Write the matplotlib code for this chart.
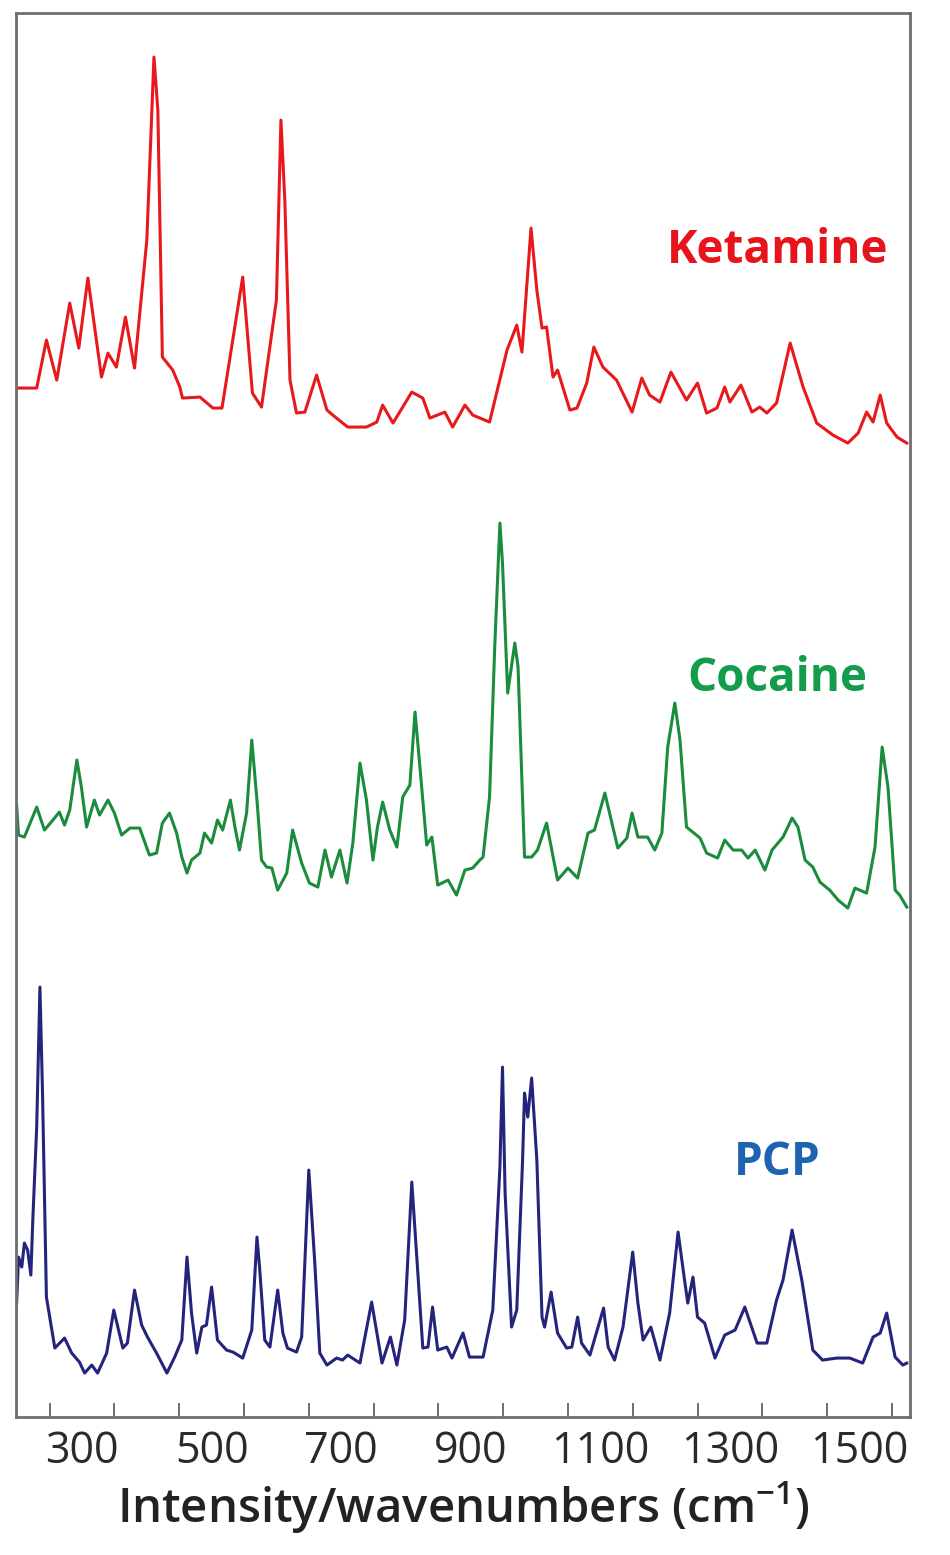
import numpy as np
import matplotlib
matplotlib.use("Agg")
import matplotlib.pyplot as plt

# Raman spectra (wavenumber in cm-1, intensity in arbitrary units)
ket_wn = [199, 230, 245, 261, 281, 295, 309, 330, 340, 353, 367, 381, 400, 411, 417, 424,
          440, 451, 455, 482, 502, 516, 548, 563, 577, 600, 607, 613, 621, 631, 644, 662,
          678, 687, 710, 739, 755, 764, 780, 809, 826, 837, 860, 872, 891, 903, 929, 956,
          971, 979, 993, 1002, 1010, 1017, 1027, 1034, 1053, 1064, 1079, 1090, 1104, 1125,
          1149, 1164, 1176, 1192, 1209, 1233, 1250, 1264, 1280, 1292, 1300, 1317, 1334,
          1346, 1357, 1372, 1393, 1413, 1434, 1459, 1482, 1498, 1511, 1521, 1532, 1542,
          1558, 1573]
ket_int = [57, 57, 105, 65, 142, 97, 167, 68, 92, 78, 128, 77, 205, 388, 335, 88,
           75, 58, 47, 48, 37, 37, 168, 52, 38, 145, 325, 245, 65, 32, 33, 70,
           35, 30, 18, 18, 23, 40, 22, 53, 47, 27, 33, 18, 40, 30, 23, 95,
           120, 93, 217, 155, 117, 118, 68, 75, 35, 37, 62, 98, 78, 65,
           33, 67, 50, 43, 73, 45, 62, 32, 37, 58, 43, 60, 33,
           38, 32, 42, 102, 58, 22, 10, 2, 12, 33, 23, 50, 22,
           8, 2]

coc_wn = [199, 202, 211, 230, 242, 255, 265, 273, 281, 292, 299, 307, 319, 327, 340, 350,
          361, 374, 389, 404, 415, 424, 435, 446, 454, 462, 469, 482, 489, 500, 509, 517,
          529, 536, 543, 554, 562, 570, 577, 585, 593, 602, 616, 625, 639, 651, 664, 675,
          685, 698, 709, 718, 729, 739, 749, 756, 764, 775, 786, 795, 806, 814, 821, 832,
          840, 849, 865, 878, 891, 903, 914, 919, 929, 937, 945, 949, 957, 968, 973, 983,
          994, 1003, 1017, 1034, 1050, 1065, 1081, 1091, 1107, 1127, 1141, 1149, 1158, 1173,
          1184, 1195, 1204, 1215, 1223, 1233, 1254, 1264, 1281, 1292, 1305, 1318, 1328, 1339,
          1354, 1365, 1382, 1396, 1405, 1416, 1428, 1439, 1454, 1467, 1482, 1493, 1511, 1524,
          1535, 1544, 1555, 1562, 1573]
coc_int = [105, 75, 73, 103, 80, 90, 98, 85, 100, 150, 123, 83, 110, 95, 110, 97,
           75, 82, 82, 55, 57, 87, 97, 77, 53, 37, 50, 57, 77, 67, 90, 80,
           110, 83, 60, 97, 170, 110, 50, 43, 42, 20, 37, 80, 47, 27, 23, 60,
           33, 60, 27, 67, 147, 110, 50, 83, 108, 80, 63, 113, 125, 198, 147, 65,
           73, 25, 30, 15, 40, 42, 50, 53, 113, 263, 387, 347, 217, 267, 243, 53,
           53, 60, 87, 30, 42, 32, 77, 80, 117, 62, 72, 97, 73, 73,
           60, 77, 163, 207, 170, 83, 72, 57, 52, 70, 60, 60, 52, 60,
           40, 60, 73, 92, 83, 50, 43, 28, 20, 10, 2, 22, 17, 63,
           163, 123, 20, 15, 3]

pcp_wn = [199, 202, 207, 211, 216, 221, 224, 230, 235, 239, 245, 258, 273, 284, 296, 304,
          315, 324, 338, 349, 363, 370, 381, 392, 401, 415, 431, 443, 454, 462, 469, 477,
          485, 492, 500, 509, 523, 533, 548, 562, 570, 574, 582, 590, 602, 610, 617, 631,
          639, 650, 659, 667, 678, 693, 702, 710, 729, 747, 763, 776, 786, 798, 809, 817,
          826, 834, 841, 849, 863, 871, 888, 898, 919, 934, 945, 949, 953, 963, 971, 980,
          983, 988, 994, 1002, 1010, 1014, 1024, 1034, 1048, 1056, 1065, 1071, 1084, 1105,
          1112, 1122, 1135, 1150, 1158, 1166, 1178, 1192, 1207, 1220, 1230, 1235, 1243, 1250,
          1261, 1277, 1292, 1308, 1323, 1342, 1357, 1372, 1382, 1396, 1411, 1428, 1443, 1465,
          1485, 1505, 1521, 1532, 1542, 1555, 1567, 1573]
pcp_int = [72, 118, 108, 132, 125, 100, 155, 248, 388, 282, 78, 27, 37, 22, 13, 2,
           10, 2, 22, 65, 27, 32, 85, 50, 38, 22, 2, 18, 35, 118, 62, 22,
           48, 50, 88, 35, 25, 23, 17, 45, 138, 108, 35, 28, 85, 42, 27, 23,
           38, 205, 115, 22, 10, 17, 15, 20, 12, 73, 12, 38, 10, 55, 193, 115,
           27, 28, 68, 25, 28, 17, 42, 18, 18, 65, 208, 308, 182, 48, 65, 215,
           282, 258, 297, 215, 58, 48, 83, 42, 27, 28, 58, 32, 20, 67,
           28, 15, 48, 123, 72, 35, 48, 15, 62, 143, 95, 72, 98, 58,
           52, 17, 40, 45, 68, 32, 32, 75, 95, 145, 95, 25, 15, 17,
           17, 12, 38, 42, 62, 18, 10, 12]

names = ["Ketamine", "Cocaine", "PCP"]
tick_pos = list(range(250, 1551, 100))
label_pos = [300, 500, 700, 900, 1100, 1300, 1500]
tick_labels = ["300", "500", "700", "900", "1100", "1300", "1500"]

# vertical stacking of the three traces
offsets = [972, 507, 42]
line_colors = ["#e8191c", "#1b8c3e", "#24247c"]
text_colors = ["#e8141c", "#139c4c", "#1f62b0"]
text_y = [0.831, 0.526, 0.181]

plt.rcParams["font.family"] = ["Open Sans", "DejaVu Sans"]

fig = plt.figure(figsize=(9.5, 15.55), dpi=100)
ax = fig.add_axes([0.0168, 0.0887, 0.9411, 0.9029])

series = [(ket_wn, ket_int), (coc_wn, coc_int), (pcp_wn, pcp_int)]
for (wn, inten), off, col in zip(series, offsets, line_colors):
    ax.plot(wn, np.array(inten) + off, color=col, lw=2.2, solid_joinstyle="round")

for name, col, ty in zip(names, text_colors, text_y):
    ax.text(0.852, ty, name, transform=ax.transAxes, color=col, fontsize=33,
            fontweight="bold", ha="center", va="center")

ax.set_xlim(198, 1578)
ax.set_ylim(0, 1404)
ax.set_yticks([])

ax.set_xticks(tick_pos)
ax.set_xticklabels([""] * len(tick_pos))
ax.tick_params(axis="x", which="major", direction="in", length=10, width=1.2,
               color="#555555")
ax.set_xticks(label_pos, minor=True)
ax.set_xticklabels(tick_labels, minor=True)
ax.tick_params(axis="x", which="minor", length=0, pad=9, labelsize=31,
               labelcolor="#2a2a2a")

for sp in ax.spines.values():
    sp.set_color("#6e6e6e")
    sp.set_linewidth(2.0)

ax.set_xlabel(r"Intensity/wavenumbers (cm$^{\mathregular{-1}}$)", fontsize=34,
              fontweight="semibold", color="#222222", labelpad=4)

fig.savefig("out.png", dpi=100)
